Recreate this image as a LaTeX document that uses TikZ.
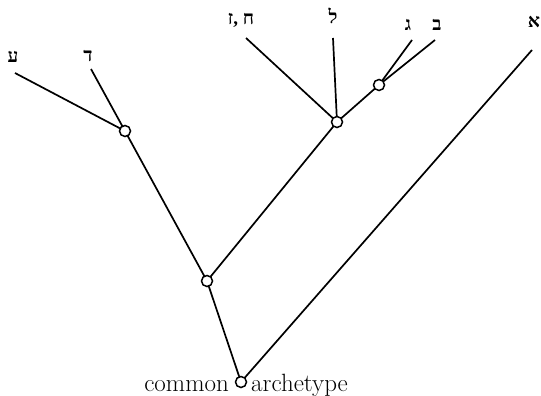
\documentclass[tikz,border=0pt]{standalone}
\usepackage{fontspec}
\newfontfamily\hebfont[Script=Hebrew]{Liberation Serif}
\TeXXeTstate=1
\begin{document}
\begin{tikzpicture}[x=1pt,y=-1pt,
  branch/.style={line width=1.7pt,black},
  ms/.style={circle,draw,line width=1.5pt,fill=white,minimum size=11pt,inner sep=0pt},
  heb/.style={inner sep=0pt,font=\hebfont\bfseries\fontsize{19}{21}\selectfont},
  lbl/.style={inner sep=0pt,font=\fontsize{25}{28}\selectfont}]
  \useasboundingbox (0,0) rectangle (541,396);

  % manuscript labels
  \node[heb] (ayin)  at (13,57)  {\beginR ע\endR};
  \node[heb] (dalet) at (88,56)  {\beginR ד\endR};
  \node[heb] (hetz)  at (241,20) {\beginR ח ,ז\endR};
  \node[heb] (lamed) at (333,16) {\beginR ל\endR};
  \node[heb] (gimel) at (408,25) {\beginR ג\endR};
  \node[heb] (bet)   at (437,25) {\beginR ב\endR};
  \node[heb] (alef)  at (534,22) {\beginR א\endR};

  % free ends of the branches below the labels
  \coordinate (eAyin)  at (15,73);
  \coordinate (eDalet) at (91,69);
  \coordinate (eHetz)  at (246,38);
  \coordinate (eLamed) at (333,38);
  \coordinate (eGimel) at (412,40);
  \coordinate (eBet)   at (435,40);
  \coordinate (eAlef)  at (532,50);

  % hyparchetypes and archetype
  \coordinate (pRoot) at (241,382);
  \coordinate (pA) at (207,281);
  \coordinate (pB) at (125,131);
  \coordinate (pC) at (337,122);
  \coordinate (pD) at (379,85);

  \draw[branch] (eAyin) -- (pB);
  \draw[branch] (eDalet) -- (pB);
  \draw[branch] (eHetz) -- (pC);
  \draw[branch] (eLamed) -- (pC);
  \draw[branch] (eGimel) -- (pD);
  \draw[branch] (eBet) -- (pD);
  \draw[branch] (pD) -- (pC);
  \draw[branch] (pC) -- (pA);
  \draw[branch] (pB) -- (pA);
  \draw[branch] (pA) -- (pRoot);
  \draw[branch] (eAlef) -- (pRoot);

  \node[ms] (root) at (pRoot) {};
  \node[ms] (a) at (pA) {};
  \node[ms] (b) at (pB) {};
  \node[ms] (c) at (pC) {};
  \node[ms] (d) at (pD) {};

  \node[lbl,anchor=base east] (common) at (229,391) {common};
  \node[lbl,anchor=base west] (arch) at (251,391) {archetype};
\end{tikzpicture}
\end{document}
